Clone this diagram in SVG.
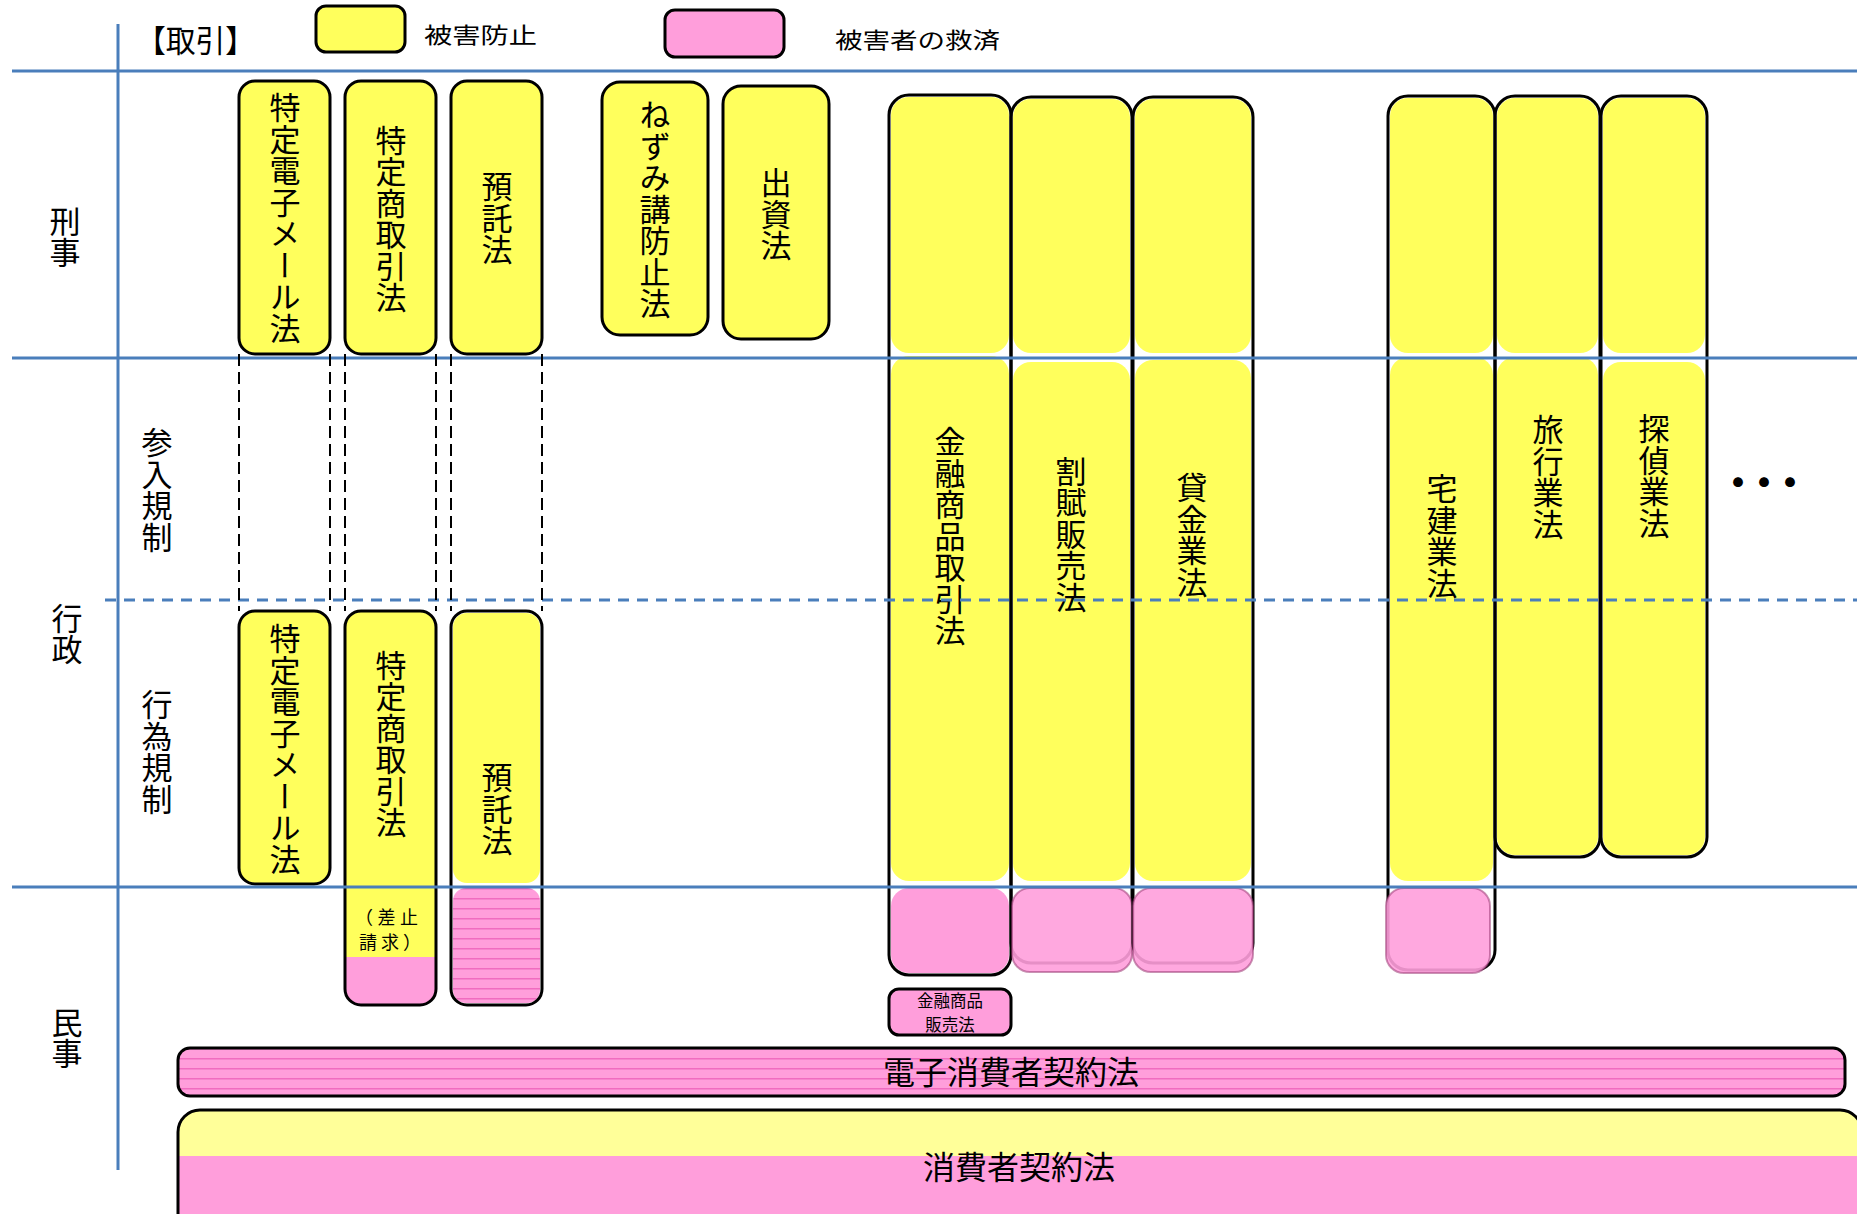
<svg xmlns="http://www.w3.org/2000/svg" width="1857" height="1214" viewBox="0 0 1857 1214">
<style>
.y{fill:#FFFF5C}
.yl{fill:#FFFF99}
.p{fill:#FF9EDB}
.ps{fill:url(#stripe)}
.pd{fill:#FF9EDB;fill-opacity:0.9;stroke:#9B3A74;stroke-opacity:0.55;stroke-width:2}
.ol{fill:none;stroke:#000;stroke-width:3}
.blue{stroke:#4A7EBB;stroke-width:3;fill:none}
.bd{stroke-dasharray:11 8}
.kd{stroke:#000;stroke-width:2;stroke-dasharray:12 6;fill:none}
.t{font-family:"Noto Sans CJK JP","Noto Sans CJK SC",sans-serif;fill:#000}
.vt{font-family:"Noto Sans CJK JP","Noto Sans CJK SC",sans-serif;font-size:31px;writing-mode:vertical-rl;text-anchor:middle;letter-spacing:0.5px;fill:#000}
</style>
<defs>
<pattern id="stripe" width="10" height="10" patternUnits="userSpaceOnUse">
<rect width="10" height="10" fill="#FF9EDB"/>
<rect y="8" width="10" height="1.5" fill="#F06CC0"/>
</pattern>
</defs>

<g id="header">
<text class="t" x="136" y="52" font-size="31" textLength="119" lengthAdjust="spacingAndGlyphs">【取引】</text>
</g>
<g id="legend-prevent">
<rect x="316" y="6" width="89" height="46" rx="10" class="y" stroke="#000" stroke-width="3"/>
<text class="t" x="424" y="43" font-size="22" textLength="113" lengthAdjust="spacingAndGlyphs">被害防止</text>
</g>
<g id="legend-relief">
<rect x="665" y="10" width="119" height="47" rx="10" class="p" stroke="#000" stroke-width="3"/>
<text class="t" x="835" y="48" font-size="22" textLength="165" lengthAdjust="spacingAndGlyphs">被害者の救済</text>
</g>

<g id="row-labels">
<text class="vt" x="65" y="237" letter-spacing="-1">刑事</text>
<text class="vt" x="67" y="634" letter-spacing="-3">行政</text>
<text class="vt" x="157" y="490" letter-spacing="1">参入規制</text>
<text class="vt" x="157" y="752" letter-spacing="1">行為規制</text>
<text class="vt" x="67" y="1038" letter-spacing="0">民事</text>
</g>

<g id="tokutei-email-top">
<rect x="239" y="81" width="91" height="273" rx="16" class="y"/>
<rect x="239" y="81" width="91" height="273" rx="16" class="ol"/>
<text class="vt" x="285" y="218" font-size="28.5" letter-spacing="-0.8">特定電子メール法</text>
</g>
<g id="tokusho-top">
<rect x="345" y="81" width="91" height="273" rx="16" class="y"/>
<rect x="345" y="81" width="91" height="273" rx="16" class="ol"/>
<text class="vt" x="391" y="219">特定商取引法</text>
</g>
<g id="yotaku-top">
<rect x="451" y="81" width="91" height="273" rx="16" class="y"/>
<rect x="451" y="81" width="91" height="273" rx="16" class="ol"/>
<text class="vt" x="497" y="218">預託法</text>
</g>
<g id="nezumi">
<rect x="602" y="82" width="106" height="253" rx="18" class="y"/>
<rect x="602" y="82" width="106" height="253" rx="18" class="ol"/>
<text class="vt" x="655" y="209">ねずみ講防止法</text>
</g>
<g id="shusshi">
<rect x="723" y="86" width="106" height="253" rx="18" class="y"/>
<rect x="723" y="86" width="106" height="253" rx="18" class="ol"/>
<text class="vt" x="776" y="214">出資法</text>
</g>

<g id="tokutei-email-lower">
<rect x="239" y="611" width="91" height="273" rx="16" class="y"/>
<rect x="239" y="611" width="91" height="273" rx="16" class="ol"/>
<text class="vt" x="285" y="749" font-size="28.5" letter-spacing="-0.8">特定電子メール法</text>
</g>
<g id="tokusho-lower">
<rect x="345" y="611" width="91" height="394" rx="16" class="p"/>
<path d="M346,957 V627 Q346,612 361,612 H420 Q435,612 435,627 V957 Z" class="y"/>
<rect x="345" y="611" width="91" height="394" rx="16" class="ol"/>
<text class="vt" x="391" y="744">特定商取引法</text>
<text class="t" font-size="18"><tspan x="355" y="924" textLength="63" lengthAdjust="spacing">（差止</tspan><tspan x="359" y="949" textLength="62" lengthAdjust="spacing">請求）</tspan></text>
</g>
<g id="yotaku-lower">
<rect x="453" y="613" width="87" height="270" rx="14" class="y"/>
<rect x="453" y="888" width="87" height="115" rx="13" class="ps"/>
<rect x="451" y="611" width="91" height="394" rx="16" class="ol"/>
<text class="vt" x="497" y="809">預託法</text>
</g>

<g id="kinsho">
<rect x="891" y="97" width="118" height="256" rx="18" class="y"/>
<rect x="891" y="356" width="118" height="525" rx="18" class="y"/>
<rect x="891" y="888" width="118" height="85" rx="18" class="p"/>
<rect x="889" y="95" width="122" height="880" rx="20" class="ol"/>
<text class="vt" x="950" y="536" letter-spacing="1.3">金融商品取引法</text>
</g>
<g id="kappu">
<rect x="1013" y="99" width="117" height="254" rx="18" class="y"/>
<rect x="1013" y="362" width="117" height="519" rx="18" class="y"/>
<rect x="1011" y="97" width="121" height="866" rx="20" class="ol"/>
<rect x="1012" y="888" width="120" height="84" rx="18" class="pd"/>
<text class="vt" x="1071" y="534" letter-spacing="1">割賦販売法</text>
</g>
<g id="kashikin">
<rect x="1135" y="99" width="116" height="254" rx="18" class="y"/>
<rect x="1135" y="360" width="116" height="521" rx="18" class="y"/>
<rect x="1133" y="97" width="120" height="866" rx="20" class="ol"/>
<rect x="1133" y="888" width="120" height="84" rx="18" class="pd"/>
<text class="vt" x="1192" y="535" letter-spacing="1.3">貸金業法</text>
</g>
<g id="kinsho-hanbai">
<rect x="889" y="989" width="122" height="46" rx="10" class="p" stroke="#000" stroke-width="3"/>
<text class="t" font-size="16.5" text-anchor="middle"><tspan x="950" y="1007">金融商品</tspan><tspan x="950" y="1031">販売法</tspan></text>
</g>

<g id="takken">
<rect x="1390" y="98" width="103" height="255" rx="18" class="y"/>
<rect x="1390" y="357" width="103" height="524" rx="18" class="y"/>
<rect x="1388" y="96" width="107" height="874" rx="20" class="ol"/>
<rect x="1386" y="888" width="104" height="85" rx="18" class="pd"/>
<text class="vt" x="1442" y="536" letter-spacing="1">宅建業法</text>
</g>
<g id="ryoko">
<rect x="1497" y="98" width="101" height="255" rx="18" class="y"/>
<rect x="1497" y="357" width="101" height="498" rx="18" class="y"/>
<rect x="1495" y="96" width="105" height="761" rx="20" class="ol"/>
<text class="vt" x="1548" y="477" letter-spacing="1">旅行業法</text>
</g>
<g id="tantei">
<rect x="1603" y="98" width="102" height="255" rx="18" class="y"/>
<rect x="1603" y="362" width="102" height="493" rx="18" class="y"/>
<rect x="1601" y="96" width="106" height="761" rx="20" class="ol"/>
<text class="vt" x="1654" y="476" letter-spacing="1">探偵業法</text>
</g>
<g id="etc">
<text class="t" x="1754" y="499" font-size="46" text-anchor="middle" letter-spacing="-20">・・・</text>
</g>

<g id="denshi-shohisha">
<rect x="178" y="1048" width="1667" height="48" rx="12" class="ps" stroke="#000" stroke-width="3"/>
<text class="t" x="1011" y="1084" font-size="32" text-anchor="middle">電子消費者契約法</text>
</g>
<g id="shohisha">
<rect x="178" y="1110" width="1684" height="130" rx="22" class="yl"/>
<rect x="179" y="1156" width="1682" height="84" class="p"/>
<rect x="178" y="1110" width="1684" height="130" rx="22" class="ol"/>
<text class="t" x="1019" y="1179" font-size="32" text-anchor="middle">消費者契約法</text>
</g>

<g id="grid">
<line x1="118" y1="24" x2="118" y2="1170" class="blue"/>
<line x1="12" y1="71" x2="1857" y2="71" class="blue"/>
<line x1="12" y1="358" x2="1857" y2="358" class="blue"/>
<line x1="12" y1="887" x2="1857" y2="887" class="blue"/>
<line x1="105" y1="600" x2="1857" y2="600" class="blue bd"/>
</g>

<g id="connectors">
<line x1="239" y1="354" x2="239" y2="611" class="kd"/>
<line x1="330" y1="354" x2="330" y2="611" class="kd"/>
<line x1="345" y1="354" x2="345" y2="611" class="kd"/>
<line x1="436" y1="354" x2="436" y2="611" class="kd"/>
<line x1="451" y1="354" x2="451" y2="611" class="kd"/>
<line x1="542" y1="354" x2="542" y2="611" class="kd"/>
</g>
</svg>
